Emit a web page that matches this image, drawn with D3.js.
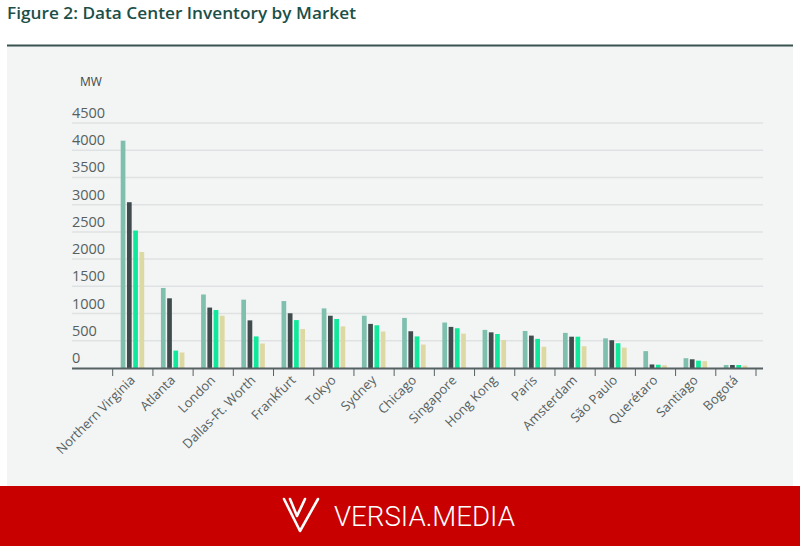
<!DOCTYPE html>
<html>
<head>
<meta charset="utf-8">
<script src="https://cdn.jsdelivr.net/npm/d3@7"></script>
<style>
  html, body { margin: 0; padding: 0; background: #fff; }
  svg { display: block; }
</style>
</head>
<body>
<div id="chart"></div>
<script>
// markets in the order they appear on the x axis
const markets = ["Northern Virginia", "Atlanta", "London", "Dallas-Ft. Worth", "Frankfurt", "Tokyo",
    "Sydney", "Chicago", "Singapore", "Hong Kong", "Paris", "Amsterdam", "São Paulo", "Querétaro",
    "Santiago", "Bogotá"];

// four bars per market (MW)
const series1 = [4175, 1470, 1350, 1255, 1230, 1095, 960, 920, 835, 700, 680, 645, 545, 310, 180, 55];
const series2 = [3045, 1280, 1110, 875, 1005, 960, 810, 675, 755, 655, 595, 575, 510, 65, 160, 55];
const series3 = [2525, 320, 1065, 580, 880, 900, 785, 580, 730, 625, 535, 575, 455, 60, 135, 55];
const series4 = [2130, 285, 960, 450, 715, 765, 670, 430, 630, 515, 390, 400, 375, 50, 125, 45];

const yTicks = [0, 500, 1000, 1500, 2000, 2500, 3000, 3500, 4000, 4500];

const W = 800, H = 546;
const colors = ["#7fbfae", "#3f4b4c", "#12e89b", "#ddd9a2"];
const allSeries = [series1, series2, series3, series4];

const svg = d3.select('#chart').append('svg')
    .attr('width', W)
    .attr('height', H);

// title + rule
svg.append('text')
    .attr('x', 7)
    .attr('y', 19)
    .attr('textLength', 349)
    .attr('lengthAdjust', 'spacingAndGlyphs')
    .text('Figure 2: Data Center Inventory by Market')
    .style('font-family', '"Open Sans", sans-serif')
    .style('font-size', '17px')
    .style('font-weight', 600)
    .style('fill', '#1b4f48');

svg.append('rect')
    .attr('x', 7).attr('y', 46)
    .attr('width', 786).attr('height', 440)
    .style('fill', '#f3f4f4');

svg.append('line')
    .attr('x1', 7).attr('x2', 793)
    .attr('y1', 45.5).attr('y2', 45.5)
    .style('stroke', '#37524f')
    .style('stroke-width', 2);

// scales
const y = d3.scaleLinear().domain([0, 4500]).range([368, 123]);
const x = d3.scaleBand().domain(markets).range([112.7, 756]);
const xInner = d3.scaleBand().domain(d3.range(4)).range([8, 31.5]).paddingInner(0.25);

const axisLeft = 72, axisRight = 763;
const textCol = '#56615f';

// gridlines
svg.append('g')
    .selectAll('line')
    .data(yTicks.filter(d => d > 0))
    .enter()
    .append('line')
    .attr('x1', axisLeft).attr('x2', axisRight)
    .attr('y1', d => y(d)).attr('y2', d => y(d))
    .style('stroke', '#dfe2e3')
    .style('stroke-width', 1.5);

// y tick labels sit just above their gridline
svg.append('g')
    .selectAll('text')
    .data(yTicks)
    .enter()
    .append('text')
    .attr('x', axisLeft)
    .attr('y', d => y(d) - 5)
    .text(d => d)
    .style('font-family', '"Open Sans", sans-serif')
    .style('font-size', '14.5px')
    .style('fill', textCol);

svg.append('text')
    .attr('x', 80)
    .attr('y', 86)
    .text('MW')
    .style('font-family', '"Open Sans", sans-serif')
    .style('font-size', '12px')
    .style('fill', '#3e4849');

// bars
const groups = svg.append('g')
    .selectAll('g')
    .data(markets)
    .enter()
    .append('g')
    .attr('transform', d => `translate(${x(d)},0)`);

groups.selectAll('rect')
    .data((m, i) => allSeries.map((s, k) => ({k: k, v: s[i]})))
    .enter()
    .append('rect')
    .attr('x', d => xInner(d.k))
    .attr('width', xInner.bandwidth())
    .attr('y', d => y(d.v))
    .attr('height', d => y(0) - y(d.v))
    .style('fill', d => colors[d.k]);

// x axis: line plus ticks on band edges
svg.append('line')
    .attr('x1', axisLeft).attr('x2', axisRight)
    .attr('y1', 368.5).attr('y2', 368.5)
    .style('stroke', '#566162')
    .style('stroke-width', 2);

const edges = markets.map(m => x(m)).concat([x.range()[1]]);
svg.append('g')
    .selectAll('line')
    .data(edges)
    .enter()
    .append('line')
    .attr('x1', d => d).attr('x2', d => d)
    .attr('y1', 369).attr('y2', 376)
    .style('stroke', '#566162')
    .style('stroke-width', 1);

svg.append('g')
    .selectAll('text')
    .data(markets)
    .enter()
    .append('text')
    .attr('transform', d => `translate(${x(d) + x.bandwidth() / 2 + 3},${381}) rotate(-45)`)
    .attr('text-anchor', 'end')
    .text(d => d)
    .style('font-family', '"Open Sans", sans-serif')
    .style('font-size', '13px')
    .style('fill', textCol);

// footer banner
svg.append('rect')
    .attr('x', 0).attr('y', 486)
    .attr('width', W).attr('height', 60)
    .style('fill', '#c80000');

const logo = svg.append('g')
    .style('fill', 'none')
    .style('stroke', '#fff')
    .style('stroke-width', 2.6)
    .style('stroke-linejoin', 'round')
    .style('stroke-linecap', 'round');
logo.append('path').attr('d', 'M284,499 L300,531 L318,499');
logo.append('path').attr('d', 'M290,499 L297,516 L305,499');

svg.append('text')
    .attr('x', 334)
    .attr('y', 526)
    .attr('textLength', 181)
    .attr('lengthAdjust', 'spacingAndGlyphs')
    .text('VERSIA.MEDIA')
    .style('font-family', 'Roboto, sans-serif')
    .style('font-size', '28px')
    .style('font-weight', 300)
    .style('fill', '#fff');
</script>
</body>
</html>
